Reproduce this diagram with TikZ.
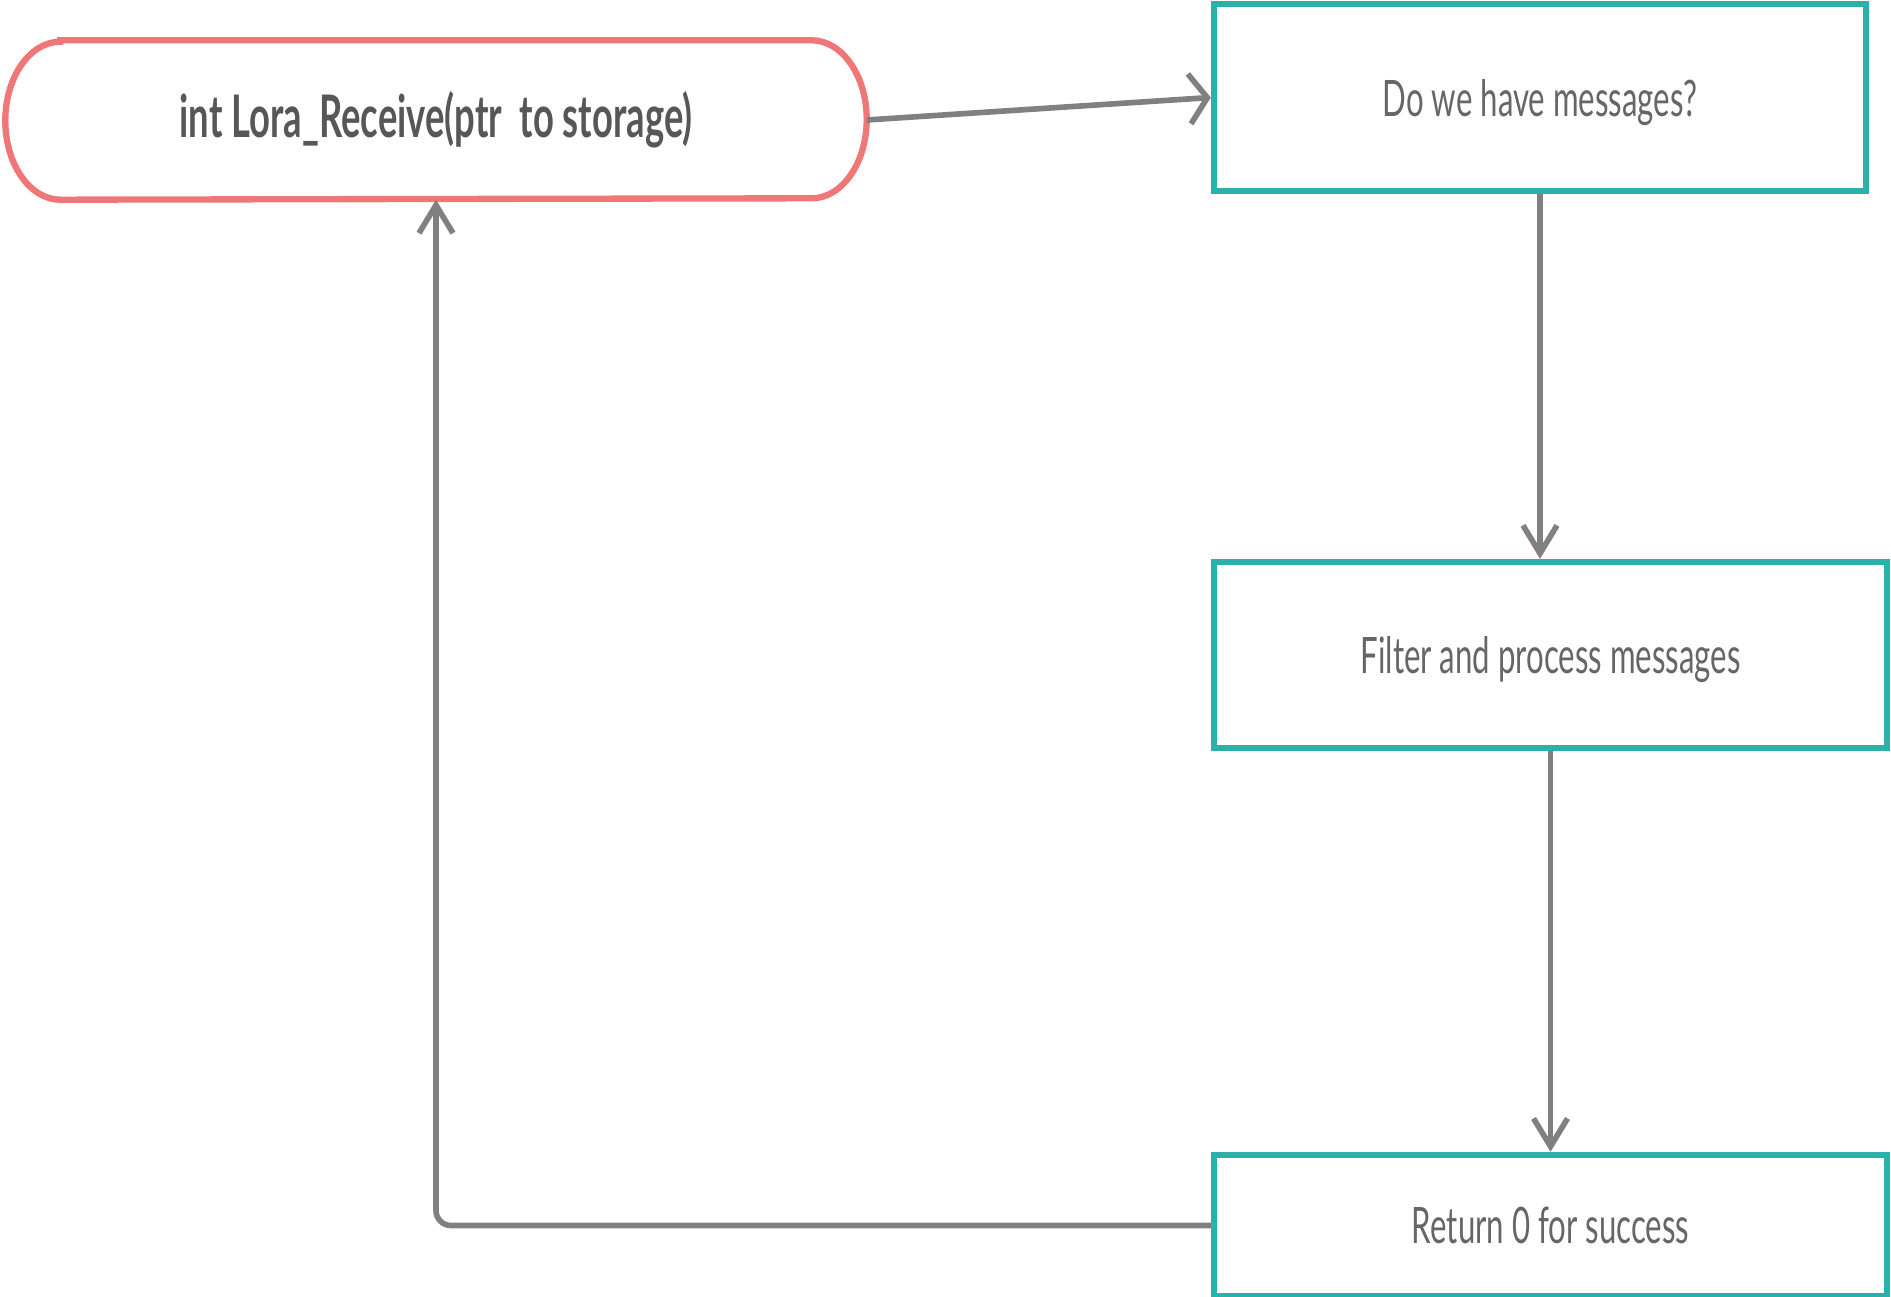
\documentclass[tikz,border=0pt]{standalone}
\usepackage{fontspec}
\newfontfamily\flowfont{Lato}[FakeStretch=0.62]
\usetikzlibrary{arrows.meta, positioning}

\definecolor{pillred}{HTML}{F07777}
\definecolor{boxteal}{HTML}{2BB0AA}
\definecolor{linegrey}{HTML}{808080}
\definecolor{textgrey}{HTML}{666666}

\tikzset{
    stepbox/.style={draw=boxteal, line width=1.8pt, inner sep=0pt, text depth=0pt,
        font=\flowfont\fontsize{14.3}{16}\selectfont, text=textgrey},
    flow/.style={draw=linegrey, line width=1.6pt,
        -{Straight Barb[length=2.8mm, width=3.4mm]}},
}

\begin{document}
\begin{tikzpicture}
    \useasboundingbox (0,0) rectangle (18.91,-12.97);

    % Start terminal
    \node (start) [minimum width=8.6cm, minimum height=1.58cm, inner sep=0pt,
        font=\flowfont\bfseries\fontsize{16.7}{18}\selectfont, text=textgrey!85!black]
        at (4.36,-1.20) {int Lora\_Receive(ptr\ \ to storage)};
    \draw[pillred, line width=1.8pt]
        ([xshift=0.55cm]start.north west) -- ([xshift=-0.55cm]start.north east)
        arc[start angle=90, end angle=-90, x radius=0.55cm, y radius=0.79cm]
        -- ([xshift=0.55cm]start.south west)
        arc[start angle=270, end angle=90, x radius=0.55cm, y radius=0.79cm]
        -- cycle;

    % Process steps
    \node[stepbox, minimum width=6.52cm, minimum height=1.87cm] (ask) at (15.40,-0.975) {Do we have messages?};
    \node[stepbox, minimum width=6.73cm, minimum height=1.86cm] (filter) at (15.505,-6.55) {Filter and process messages};
    \node[stepbox, minimum width=6.73cm, minimum height=1.41cm] (done) at (15.505,-12.255) {Return 0 for success};

    % Connectors
    \draw[flow, -{Straight Barb[length=1.8mm, width=5mm]}] (start.east) -- (ask.west);
    \draw[flow] (ask.south) -- (ask.south |- filter.north);
    \draw[flow] (filter.south) -- (done.north);
    \draw[flow, rounded corners=0.15cm] (done.west) -| (start.south);
\end{tikzpicture}
\end{document}
